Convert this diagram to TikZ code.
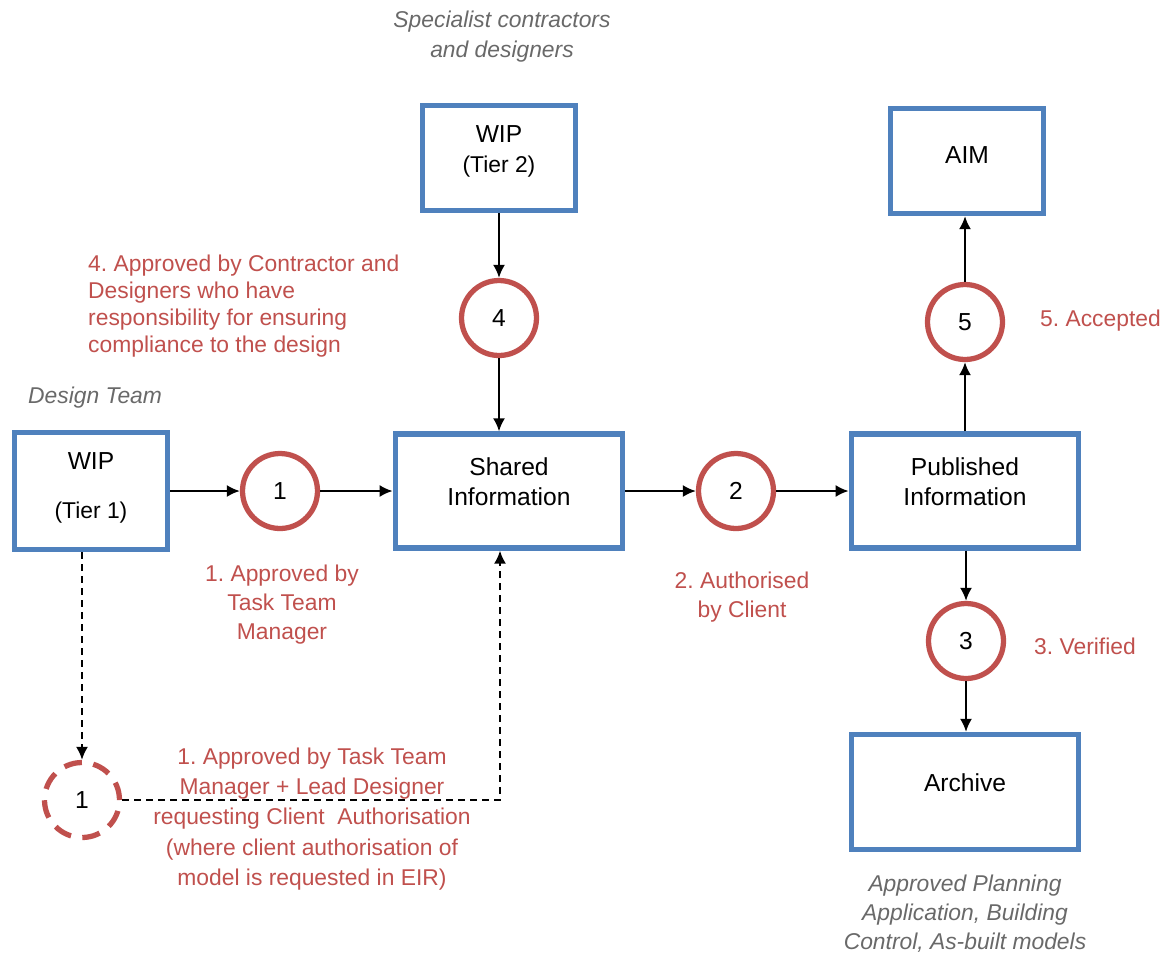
\documentclass[tikz,border=0pt]{standalone}
\usepackage{fontspec}
\setmainfont{Liberation Sans}
\usetikzlibrary{arrows.meta}
\frenchspacing
\definecolor{boxblue}{RGB}{79,129,189}
\definecolor{stagered}{RGB}{192,80,77}
\definecolor{notegray}{RGB}{105,105,105}
\tikzset{
  infobox/.style={draw=boxblue, line width=3pt, fill=white, minimum width=3.06cm,
    minimum height=2.3cm, align=center, inner sep=2pt, font=\fontsize{14}{17}\selectfont},
  widebox/.style={infobox, minimum width=4.55cm},
  stage/.style={circle, draw=stagered, line width=3pt, minimum size=1.5cm,
    inner sep=0pt, font=\fontsize{14}{17}\selectfont},
  dashstage/.style={stage, dash pattern=on 3.6mm off 2.3mm},
  flow/.style={-{Latex[length=2.6mm,width=2.4mm]}, line width=1.2pt},
  dflow/.style={flow, dash pattern=on 1.4mm off 1mm},
  stagenote/.style={text=stagered, align=center, font=\fontsize{13}{16.5}\selectfont},
  teamnote/.style={text=notegray, align=center, font=\fontsize{13}{16.5}\selectfont\itshape},
}
\begin{document}
\begin{tikzpicture}[x=0.02cm, y=-0.02cm]
\useasboundingbox (0,0) rectangle (1163,954);

% boxes
\node[infobox, minimum height=2.34cm] (tierone) at (91,491)
  {WIP\\[11pt]{\fontsize{13}{16}\selectfont (Tier 1)}\\[-11pt]};
\node[infobox, minimum height=2.1cm] (tiertwo) at (499,158)
  {WIP\\{\fontsize{13}{16}\selectfont (Tier 2)}\\[-7pt]};
\node[widebox, minimum height=2.28cm] (shared) at (509,491) {Shared\\Information\\[-6pt]};
\node[widebox, minimum height=2.28cm] (published) at (965,491) {Published\\Information\\[-6pt]};
\node[infobox, minimum height=2.1cm] (aim) at (967,161) {AIM\\[-10pt]};
\node[widebox, minimum height=2.3cm] (archive) at (965,792) {Archive\\[-6pt]};

% approval stages
\node[stage] (one) at (280,491) {1};
\node[stage] (four) at (499,318) {4};
\node[stage] (two) at (736,491) {2};
\node[stage] (five) at (965,322) {5};
\node[stage] (three) at (966,641) {3};
\node[dashstage] (dashone) at (82,800) {1};
\coordinate (bend) at (500,800);

% flows
\draw[flow] (tierone) -- (one);
\draw[flow] (one) -- (shared);
\draw[flow] (tiertwo.south -| four) -- (four);
\draw[flow] (four) -- (four |- shared.north);
\draw[flow] (shared) -- (two);
\draw[flow] (two) -- (published);
\draw[flow] (published.north -| five) -- (five);
\draw[flow] (five) -- (aim.south -| five);
\draw[flow] (published.south -| three) -- (three);
\draw[flow] (three) -- (archive.north -| three);
\draw[dflow] (tierone.south -| dashone) -- (dashone);
\draw[dflow] (dashone.east) -- (bend) -- (bend |- shared.south);

% notes
\node[stagenote, align=left, anchor=west, font=\fontsize{13}{15.5}\selectfont] (notefour) at (82,306)
  {4. Approved by Contractor and\\Designers who have\\responsibility for ensuring\\compliance to the design};
\node[stagenote] (noteone) at (282,605) {1. Approved by\\Task Team\\Manager};
\node[stagenote] (notetwo) at (742,597) {2. Authorised\\by Client};
\node[stagenote, anchor=west] (notethree) at (1028,646) {3. Verified};
\node[stagenote, anchor=west] (notefive) at (1034,321) {5. Accepted};
\node[stagenote, font=\fontsize{13}{17.3}\selectfont] (notedash) at (312,819)
  {1. Approved by Task Team\\Manager + Lead Designer\\requesting Client\ \ Authorisation\\(where client authorisation of\\model is requested in EIR)};

\node[teamnote, font=\fontsize{13}{17}\selectfont\itshape] (specialists) at (502,37) {Specialist contractors\\and designers};
\node[teamnote, anchor=west] (designteam) at (22,398) {Design Team};
\node[teamnote, font=\fontsize{13}{16.5}\selectfont\itshape] (archivenote) at (965,914)
  {Approved Planning\\Application, Building\\Control, As-built models};
\end{tikzpicture}
\end{document}
